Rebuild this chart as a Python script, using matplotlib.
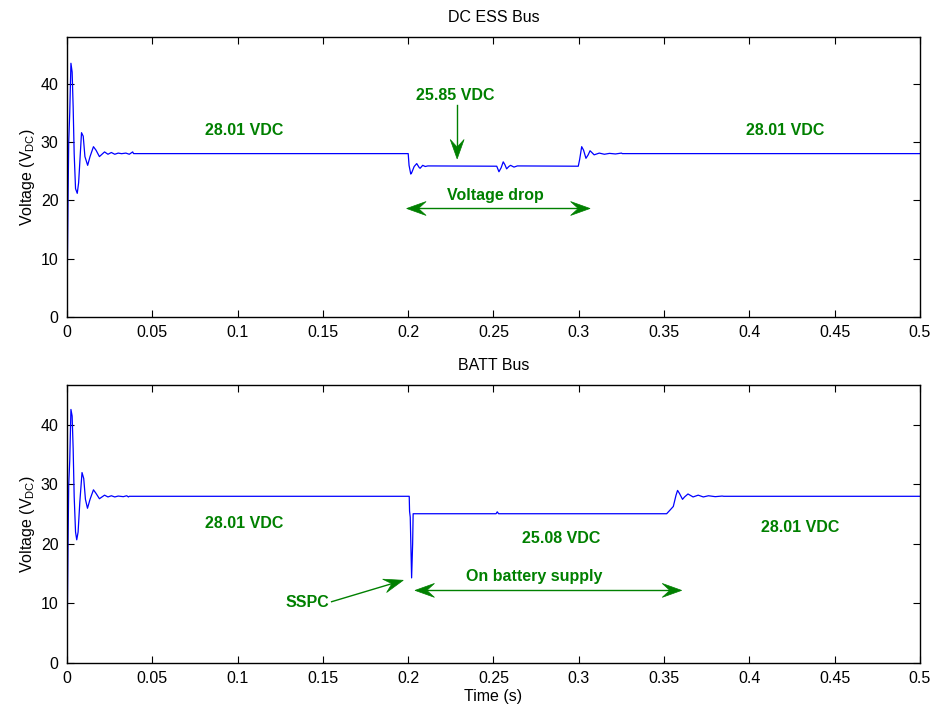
import numpy as np
import matplotlib
matplotlib.use('Agg')
import matplotlib.pyplot as plt
from matplotlib.patches import Polygon
from matplotlib.transforms import Affine2D, ScaledTranslation

plt.rcParams['font.family'] = ['Liberation Sans', 'DejaVu Sans']
plt.rcParams['mathtext.fontset'] = 'custom'
plt.rcParams['mathtext.rm'] = 'Liberation Sans'
plt.rcParams['mathtext.it'] = 'Liberation Sans'

# DC ESS bus voltage trace (time s, volts)
t_ess = [0, 0.0001, 0.0006, 0.001, 0.0016, 0.0023, 0.003, 0.0036, 0.0042, 0.005,
         0.006, 0.0068, 0.0076, 0.0085, 0.0095, 0.0105, 0.0121, 0.0135, 0.0155, 0.017,
         0.019, 0.0205, 0.022, 0.024, 0.026, 0.028, 0.030, 0.032, 0.0345, 0.0365,
         0.0385, 0.039, 0.2, 0.2005, 0.2015, 0.202, 0.2035, 0.205, 0.2065, 0.207,
         0.2085, 0.21, 0.2115, 0.2519, 0.2532, 0.2545, 0.2557, 0.2567, 0.2577, 0.259,
         0.26, 0.262, 0.264, 0.2997, 0.3005, 0.3017, 0.3028, 0.3042, 0.3055, 0.3066,
         0.308, 0.309, 0.312, 0.315, 0.318, 0.3215, 0.325, 0.3255, 0.5]
v_ess = [0, 5.5, 20, 30, 35, 43.5, 42, 36, 28, 22,
         21.2, 23, 27, 31.6, 31, 27.5, 26, 27.5, 29.2, 28.6,
         27.5, 27.9, 28.3, 27.9, 28.2, 27.9, 28.1, 28.0, 28.1, 27.9,
         28.3, 28.01, 28.01, 26, 24.5, 24.7, 25.8, 26.3, 25.6, 25.5,
         26, 25.8, 25.9, 25.85, 24.9, 25.6, 26.6, 26.1, 25.4, 25.8,
         26.0, 25.7, 25.9, 25.85, 27, 29.2, 28.6, 27.2, 27.8, 28.5,
         28.1, 27.8, 28.1, 27.9, 28.05, 27.95, 28.1, 28.01, 28.01]

# BATT bus voltage trace
t_batt = [0, 0.0001, 0.0006, 0.001, 0.0016, 0.0023, 0.003, 0.0036, 0.0042, 0.005,
          0.0057, 0.0065, 0.0075, 0.0088, 0.0098, 0.0108, 0.012, 0.0135, 0.0155, 0.017,
          0.019, 0.0205, 0.022, 0.024, 0.026, 0.028, 0.030, 0.033, 0.035, 0.036,
          0.0365, 0.2006, 0.2008, 0.2012, 0.202, 0.2026, 0.2029, 0.2515, 0.2522, 0.253,
          0.3515, 0.3535, 0.3554, 0.357, 0.3579, 0.359, 0.3608, 0.362, 0.364, 0.367,
          0.37, 0.373, 0.376, 0.38, 0.384, 0.385, 0.5]
v_batt = [0, 5, 20, 30, 34, 42.6, 41.5, 36, 28, 22,
          20.7, 22, 27, 32, 31, 27.5, 26, 27.5, 29.1, 28.5,
          27.6, 27.9, 28.2, 27.9, 28.1, 27.9, 28.05, 27.95, 28.1, 27.9,
          28.01, 28.01, 25.5, 24.5, 14.3, 20, 25.08, 25.08, 25.4, 25.08,
          25.08, 25.7, 26.3, 28.2, 29.0, 28.5, 27.5, 27.9, 28.4, 27.9,
          28.2, 27.9, 28.1, 27.95, 28.05, 28.01, 28.01]

x_ticks = [0, 0.05, 0.1, 0.15, 0.2, 0.25, 0.3, 0.35, 0.4, 0.45, 0.5]
x_labels = ['0', '0.05', '0.1', '0.15', '0.2', '0.25', '0.3', '0.35', '0.4', '0.45', '0.5']
y_ticks = [0, 10, 20, 30, 40]

green = '#008000'
fs = 11.5
fig = plt.figure(figsize=(9.32, 7.12), dpi=100)
ax1 = fig.add_axes([0.0719, 0.5548, 0.9152, 0.3932])
ax2 = fig.add_axes([0.0719, 0.0688, 0.9152, 0.3904])

# notched ("vback2") arrow head in points, tip at origin pointing +x
HEAD = [(0, 0), (-14, 5), (-8.5, 0), (-14, -5)]
NOTCH = 8.5


def style_axes(ax, title, ymax):
    ax.set_xlim(0, 0.5)
    ax.set_ylim(0, ymax)
    ax.set_xticks(x_ticks)
    ax.set_xticklabels(x_labels)
    ax.set_yticks(y_ticks)
    ax.tick_params(direction='in', length=5, width=0.8, top=True, right=True,
                   labelsize=fs, pad=6)
    for s in ax.spines.values():
        s.set_linewidth(1.0)
    ax.set_title(title, fontsize=fs, pad=11)
    ax.set_ylabel('Voltage (V$_{\\mathrm{DC}}$)', fontsize=fs, labelpad=3)


def head(ax, tip, frm):
    # angle in display space from frm to tip
    p0 = ax.transData.transform(frm)
    p1 = ax.transData.transform(tip)
    ang = np.arctan2(p1[1] - p0[1], p1[0] - p0[0])
    tr = (Affine2D().rotate(ang).scale(1 / 72.0) + fig.dpi_scale_trans
          + ScaledTranslation(tip[0], tip[1], ax.transData))
    ax.add_patch(Polygon(HEAD, closed=True, facecolor=green, edgecolor=green,
                         lw=0.5, transform=tr, clip_on=False))
    # point where the shaft meets the notch, in data coords
    d = NOTCH * fig.dpi / 72.0
    back = p1 - d * np.array([np.cos(ang), np.sin(ang)])
    return ax.transData.inverted().transform(back)


def arrow(ax, tip, tail, both=False):
    a = head(ax, tip, tail)
    b = head(ax, tail, tip) if both else tail
    ax.plot([b[0], a[0]], [b[1], a[1]], color=green, lw=1.0, clip_on=False)


def label(ax, x, y, s):
    ax.text(x, y, s, color=green, fontsize=fs, fontweight='bold',
            ha='center', va='center')


# top panel
ax1.plot(t_ess, v_ess, color='#0000ff', lw=0.9)
style_axes(ax1, 'DC ESS Bus', 48)
label(ax1, 0.104, 31.9, '28.01 VDC')
label(ax1, 0.2275, 38.0, '25.85 VDC')
arrow(ax1, (0.2287, 27.1), (0.2287, 36.3))
label(ax1, 0.251, 20.9, 'Voltage drop')
arrow(ax1, (0.3066, 18.6), (0.1991, 18.6), both=True)
label(ax1, 0.421, 31.9, '28.01 VDC')

# bottom panel
ax2.plot(t_batt, v_batt, color='#0000ff', lw=0.9)
style_axes(ax2, 'BATT Bus', 46.7)
ax2.set_xlabel('Time (s)', fontsize=fs, labelpad=2)
label(ax2, 0.104, 23.5, '28.01 VDC')
label(ax2, 0.2896, 20.9, '25.08 VDC')
label(ax2, 0.2737, 14.6, 'On battery supply')
arrow(ax2, (0.3603, 12.2), (0.204, 12.2), both=True)
label(ax2, 0.4297, 22.8, '28.01 VDC')
label(ax2, 0.1407, 10.1, 'SSPC')
arrow(ax2, (0.1971, 13.9), (0.1551, 10.3))

fig.savefig('out.png', dpi=100)
